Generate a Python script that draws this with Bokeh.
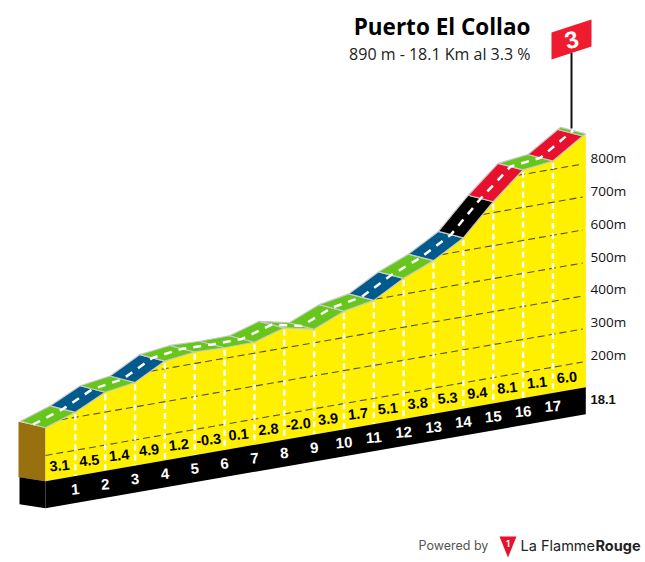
from bokeh.plotting import figure
from bokeh.models import Range1d
from bokeh.core.properties import value
from bokeh.embed import file_html
from bokeh.resources import INLINE
import numpy as np

title = "Puerto El Collao"
subtitle = "890 m - 18.1 Km al 3.3 %"
km = [0, 1, 2, 3, 4, 5, 6, 7, 8, 9, 10, 11, 12, 13, 14, 15, 16, 17, 18, 18.1]
elev = [284, 315, 360, 374, 423, 435, 432, 433, 461, 441, 480, 497, 548, 586, 639, 733, 814, 825, 885, 890]
grad = [3.1, 4.5, 1.4, 4.9, 1.2, -0.3, 0.1, 2.8, -2.0, 3.9, 1.7, 5.1, 3.8, 5.3, 9.4, 8.1, 1.1, 6.0]
grid_levels = [200, 300, 400, 500, 600, 700, 800]
base_elev = 122
cat_label = "3"

GREEN, BLUE, RED, BLACK = "#66c61c", "#005a8c", "#e8112d", "#000000"
YELLOW, BROWN, EDGE = "#fff000", "#99700f", "#c9c9c9"

W, H = 645, 562
OFF = 0
PX_KM, PX_M = 29.85, 0.33
SHEAR = 5.19 / PX_M       # metres of apparent rise per km
X0, Y0 = 45 - OFF, 480.7 - OFF

def sx(px):
    return (px - OFF - X0) / PX_KM
def sy(py):
    return base_elev + (Y0 - (py - OFF)) / PX_M
def dpx(v):
    return v / PX_KM
def dpy(v):
    return v / PX_M

x_range = Range1d(-X0 / PX_KM, (W - X0) / PX_KM)
y_range = Range1d(base_elev - (H - Y0) / PX_M, base_elev + Y0 / PX_M)
p = figure(width=W, height=H, x_range=x_range, y_range=y_range, output_backend="svg",
           toolbar_location=None, min_border=0, outline_line_color=None,
           background_fill_color="white", border_fill_color="white")
p.axis.visible = False
p.grid.visible = False

km_a = np.array(km, float)
el_a = np.array(elev, float)
def sh(k, e):
    return np.asarray(e, float) + SHEAR * np.asarray(k, float)

base = sh(km_a, base_elev)
top = sh(km_a, el_a)
band = dpy(27)

side_x, side_y = dpx(-26), dpy(4)
road_x, road_y = dpx(-25), dpy(6.5)
p.patch([0, dpx(-27), dpx(-27), 0], [top[0], top[0] + dpy(6), base[0] + side_y, base[0]], color=BROWN, line_width=0)
p.patch([0, side_x, side_x, 0], [base[0], base[0] + side_y, base[0] - band + dpy(4), base[0] - band], color=BLACK, line_width=0)

p.patch(list(km_a) + [km_a[-1], 0], list(top) + [base[-1], base[0]], color=YELLOW, line_width=0)

for lv in grid_levels:
    start = 0.0
    for i in range(len(km) - 1, 0, -1):
        if elev[i - 1] <= lv:
            start = float(np.interp(lv, [elev[i - 1], elev[i]], [km[i - 1], km[i]])) if lv <= elev[i] else km[i]
            break
    if lv < elev[0]:
        start = 0.0
    xs = [start, 18.0]
    p.line(xs, sh(xs, lv), line_color="#55503a", line_width=1.1, line_dash="7 4")

for i in range(1, 18):
    p.line([km[i], km[i]], [top[i] - dpy(2), base[i]], line_color="white", line_width=2.4, line_dash="6 4")

p.patch([0, km_a[-1], km_a[-1], 0], [base[0], base[-1], base[-1] - band, base[0] - band], color=BLACK, line_width=0)

def road_color(g):
    if g >= 9:
        return BLACK
    if g >= 5.5:
        return RED
    if g >= 4.4:
        return BLUE
    return GREEN
colors = [road_color(g) for g in grad] + [GREEN]
for i in range(len(km) - 1):
    xs = [km[i], km[i + 1], km[i + 1] + road_x, km[i] + road_x]
    ys = [top[i], top[i + 1], top[i + 1] + road_y, top[i] + road_y]
    p.patch(xs, ys, fill_color=colors[i], line_color=EDGE, line_width=1.2)
p.line(km_a + road_x * 0.5, top + road_y * 0.5, line_color="white", line_width=2.5, line_dash="8 7")

BOLD = value("Liberation Sans")
mid = km_a[:18] + 0.5
p.text(mid - dpx(1), sh(mid, base_elev) + dpy(13), text=[f"{g:.1f}" for g in grad], text_align="center",
       text_baseline="middle", text_font=BOLD, text_font_style="bold",
       text_font_size="14.5px", text_color="black", angle=0.1)
ks = km_a[1:18]
p.text(ks, sh(ks, base_elev) - dpy(13.5), text=[str(int(k)) for k in ks], text_align="center",
       text_baseline="middle", text_font=BOLD, text_font_style="bold",
       text_font_size="15px", text_color="white", angle=0.08)

p.text([sx(590)] * len(grid_levels), [sy(354.5 - (lv - 200) * 0.328) for lv in grid_levels],
       text=[f"{lv}m" for lv in grid_levels], text_baseline="middle", text_align="left",
       text_font=value("Open Sans"), text_font_size="13.5px", text_color="#111111")
p.text([sx(590)], [sy(399)], text=["18.1"], text_baseline="middle", text_align="left",
       text_font=BOLD, text_font_style="bold", text_font_size="13px", text_color="#111111")

p.text([sx(530)], [sy(25.5)], text=[title], text_align="right", text_baseline="middle",
       text_font=value("Open Sans"), text_font_style="bold", text_font_size="22.5px", text_color="black")
p.text([sx(530)], [sy(53)], text=[subtitle], text_align="right", text_baseline="middle",
       text_font=value("Open Sans"), text_font_size="16px", text_color="#222222")

pole = sx(571)
p.line([pole, pole], [sy(52), sy(128)], line_color="#111111", line_width=2)
p.patch([sx(551), sx(591), sx(591), sx(551)], [sy(32), sy(19), sy(46), sy(59)], color="#ee1c2e", line_width=0)
p.text([pole], [sy(39)], text=[cat_label], text_align="center", text_baseline="middle", angle=0.25,
       text_font=BOLD, text_font_style="bold", text_font_size="24px", text_color="white")

p.text([sx(418)], [sy(545)], text=["Powered by"], text_baseline="middle",
       text_font=value("Inter"), text_font_size="12.5px", text_color="#555555")
p.patch([sx(499), sx(516), sx(507.5)], [sy(536), sy(536), sy(557)], color="#e8112d", line_width=0)
p.text([sx(507.5)], [sy(543)], text=["1"], text_align="center", text_baseline="middle",
       text_font=value("Inter"), text_font_style="bold", text_font_size="9px", text_color="white")
p.text([sx(520)], [sy(545)], text=["La Flamme"], text_baseline="middle",
       text_font=value("Inter"), text_font_size="14.5px", text_color="#222222")
p.text([sx(595)], [sy(545)], text=["Rouge"], text_baseline="middle",
       text_font=value("Inter"), text_font_style="bold", text_font_size="14.5px", text_color="#222222")

open("out.html", "w").write(file_html(p, INLINE))
